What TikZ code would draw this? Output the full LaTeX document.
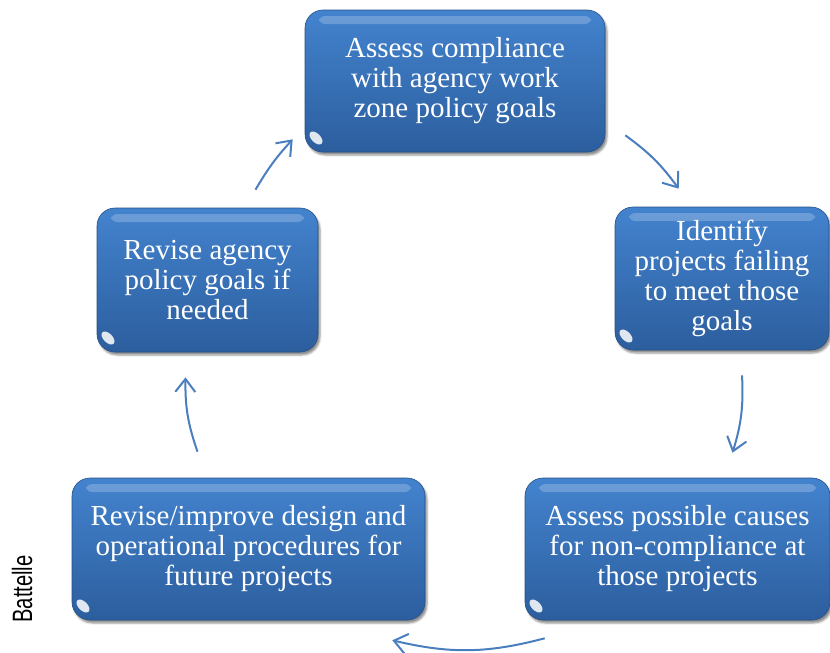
\documentclass[tikz,border=0pt]{standalone}
\usepackage{fontspec}
\setmainfont{Liberation Serif}
\newfontfamily\creditfont{Liberation Sans}
\usetikzlibrary{arrows.meta, shadows.blur}

\definecolor{boxtop}{HTML}{4383CE}
\definecolor{boxbot}{HTML}{2C5E9E}
\definecolor{flowblue}{HTML}{4A7EBF}

\tikzset{
  stepbox/.style={rounded corners=18pt, top color=boxtop, bottom color=boxbot,
    draw=boxbot!85!black, line width=0.6pt, text=white, align=center, inner sep=0pt,
    font=\fontsize{29}{30}\selectfont,
    blur shadow={shadow xshift=2pt, shadow yshift=-3pt, shadow opacity=45},
    path picture={
      \fill[white, opacity=0.22, rounded corners=6pt]
        ([xshift=14pt, yshift=-6pt]path picture bounding box.north west) rectangle
        ([xshift=-14pt, yshift=-14pt]path picture bounding box.north east);
      \fill[white, opacity=0.85]
        ([xshift=11pt, yshift=14pt]path picture bounding box.south west)
        circle [x radius=8pt, y radius=4.5pt, rotate=-45];
    }},
  flow/.style={-{Straight Barb[length=13pt, width=20pt]}, flowblue, line width=2pt}
}

\begin{document}
\begin{tikzpicture}[x=1pt, y=-1pt]
  \useasboundingbox (0,0) rectangle (830,653);

  % 五个步骤
  \node[stepbox, minimum width=300pt, minimum height=142pt] (assess) at (455,81)
    {Assess compliance\\with agency work\\zone policy goals};
  \node[stepbox, minimum width=214pt, minimum height=143pt] (identify) at (722,278.5)
    {Identify\\projects failing\\to meet those\\goals};
  \node[stepbox, minimum width=305pt, minimum height=142pt] (causes) at (677.5,549)
    {Assess possible causes\\for non-compliance at\\those projects};
  \node[stepbox, minimum width=353pt, minimum height=142pt] (improve) at (248.5,549)
    {Revise/improve design and\\operational procedures for\\future projects};
  \node[stepbox, minimum width=221pt, minimum height=144pt] (revise) at (207.5,280)
    {Revise agency\\policy goals if\\needed};

  % 循环箭头
  \draw[flow] ([shift={(20,-17)}]assess.south east) to[bend left=9] ([shift={(64,-18)}]identify.north west);
  \draw[flow] ([shift={(20,25)}]identify.south) to[bend left=10] ([shift={(55,-25)}]causes.north);
  \draw[flow] ([shift={(20,18)}]causes.south west) to[bend left=14] ([shift={(-33,20)}]improve.south east);
  \draw[flow] ([shift={(-51,-26)}]improve.north) to[bend left=10] ([shift={(-22,25)}]revise.south);
  \draw[flow] ([shift={(48,-18)}]revise.north) to[bend left=6] ([shift={(-12,-13)}]assess.south west);

  % 来源
  \node[rotate=90, xscale=0.72, font=\creditfont\fontsize{28}{28}\selectfont] (credit) at (22,589) {Battelle};
\end{tikzpicture}
\end{document}
